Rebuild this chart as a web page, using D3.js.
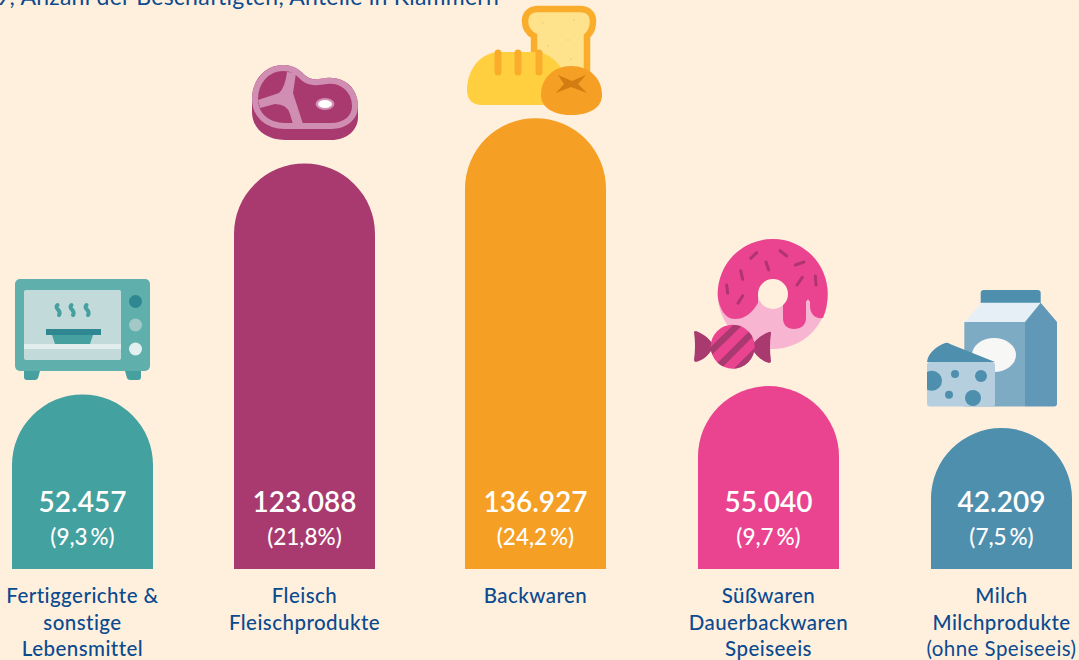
<!DOCTYPE html>
<html lang="de">
<head>
<meta charset="utf-8">
<script src="https://cdn.jsdelivr.net/npm/d3@7"></script>
<style>
html,body{margin:0;padding:0;background:#fff0de;overflow:hidden}
svg{display:block}
text{font-family:Lato,"Open Sans",sans-serif}
</style>
</head>
<body>
<div id="chart"></div>
<script>
// ---- data ----
const categories = ["Fertiggerichte", "Fleisch", "Backwaren", "Süßwaren", "Milch"];
const employees = [52457, 123088, 136927, 55040, 42209];
const shareLabels = ["(9,3\u2009%)", "(21,8%)", "(24,2\u2009%)", "(9,7\u2009%)", "(7,5\u2009%)"];
const labelLines = [
  ["Fertiggerichte &", "sonstige", "Lebensmittel"],
  ["Fleisch", "Fleischprodukte"],
  ["Backwaren"],
  ["Süßwaren", "Dauerbackwaren", "Speiseeis"],
  ["Milch", "Milchprodukte", "(ohne Speiseeis)"]
];
const barColors = ["#43a19f", "#a83a70", "#f59f24", "#ea4490", "#4f8fae"];
const subtitle = "2019, Anzahl der Beschäftigten, Anteile in Klammern";

// ---- layout ----
const W = 1079, H = 660, baseY = 569, barW = 141;
const navy = "#0b4a8f";
const xLeft = d3.scaleOrdinal().domain(categories).range([12, 234, 465, 698, 931]);
const y = d3.scaleLinear().domain([-900, 137000]).range([baseY, 118]);
const color = d3.scaleOrdinal().domain(categories).range(barColors);
const fmt = d3.formatLocale({decimal: ",", thousands: ".", grouping: [3], currency: ["", "€"]}).format(",d");

const svg = d3.select("#chart").append("svg").attr("width", W).attr("height", H).attr("viewBox", `0 0 ${W} ${H}`);
svg.append("rect").attr("width", W).attr("height", H).attr("fill", "#fff0de");

svg.append("text").attr("x", 499).attr("y", 5).attr("text-anchor", "end")
  .attr("font-size", 23).attr("letter-spacing", 0.25).attr("fill", navy).attr("font-weight", 400).text(subtitle);

const rows = categories.map((c, i) => ({c, v: employees[i], s: shareLabels[i], l: labelLines[i]}));

function barPath(d) {
  const x0 = xLeft(d.c), x1 = x0 + barW, r = barW / 2, t = y(d.v);
  const p = d3.path();
  p.moveTo(x0, baseY);
  p.lineTo(x0, t + r);
  p.arc(x0 + r, t + r, r, Math.PI, 2 * Math.PI);
  p.lineTo(x1, baseY);
  p.closePath();
  return p.toString();
}

svg.append("g").selectAll("path").data(rows).join("path")
  .attr("d", barPath).attr("fill", d => color(d.c));

const cx = d => xLeft(d.c) + barW / 2;
svg.append("g").selectAll("text").data(rows).join("text")
  .attr("x", cx).attr("y", 512).attr("text-anchor", "middle")
  .attr("fill", "#fff").attr("font-size", 28).attr("font-weight", 600)
  .text(d => fmt(d.v));
svg.append("g").selectAll("text").data(rows).join("text")
  .attr("x", cx).attr("y", 545).attr("text-anchor", "middle")
  .attr("fill", "#fff").attr("font-size", 22.5).attr("font-weight", 500)
  .text(d => d.s);

const lab = svg.append("g").selectAll("text").data(rows).join("text")
  .attr("text-anchor", "middle").attr("fill", navy).attr("font-size", 20.5).attr("letter-spacing", 0.45);
lab.selectAll("tspan").data(d => d.l.map((t, i) => ({t, i, x: cx(d)}))).join("tspan")
  .attr("x", d => d.x).attr("y", d => 603 + d.i * 27 - (d.i === 2 ? 1 : 0))
  .attr("font-weight", d => d.t.startsWith("(") ? 400 : 500)
  .text(d => d.t);

// ---- icons (drawn in page space, decorative pictograms) ----
const icons = svg.append("g");
const rect = (g, x, y, w, h, fill, rx = 0) => g.append("rect").attr("x", x).attr("y", y).attr("width", w).attr("height", h).attr("fill", fill).attr("rx", rx);
const circ = (g, cx, cy, r, fill) => g.append("circle").attr("cx", cx).attr("cy", cy).attr("r", r).attr("fill", fill);
const path = (g, d, fill, extra = {}) => { const p = g.append("path").attr("d", d).attr("fill", fill); Object.entries(extra).forEach(([k, v]) => p.attr(k, v)); return p; };

// oven
const oven = icons.append("g");
path(oven, "M24,371H40L38,378Q37,380 35,380H27Q24,380 24,377Z", "#45a09f");
path(oven, "M125,371H141V377Q141,380 138,380H130Q128,380 127,378Z", "#45a09f");
rect(oven, 15, 279, 135, 92, "#5fafad", 5);
rect(oven, 24, 290, 97, 70, "#c3dadb", 2);
rect(oven, 24, 344, 97, 5, "#e1eeed");
circ(oven, 135.5, 301.5, 6.5, "#2f8791");
circ(oven, 135.5, 325, 6.5, "#a3c9c6");
circ(oven, 135.5, 349, 6.5, "#e4f0f0");
rect(oven, 46, 329, 55, 6, "#2f8791");
path(oven, "M52,335H93L90,344H55Z", "#45a09f");
[57.5, 71.5, 86.5].forEach(sx => path(oven, `M${sx},305 C${sx - 4},309 ${sx + 5},310 ${sx + 1.5},315`, "none", {stroke: "#45a09f", "stroke-width": 4, "stroke-linecap": "round"}));

// steak
const steakShape = "M252,99 C252,80 265,65 283,65 C296,65 301,72 306,76 C312,81 318,79 326,78 C344,76 358,88 358,106 C358,120 347,129 331,129 H285 C265,129 252,117 252,99 Z";
const steakBase = "M252,99 V112 C252,128 265,140 285,140 H331 C347,140 358,130 358,117 V106 Z";
const steak = icons.append("g");
path(steak, steakBase, "#a83a70");
path(steak, steakShape, "#a83a70");
path(steak, "M255,99 C255,82 267,68 283,68 C295,68 299,74 304,78.5 C311,84 318,82 326,81 C342,79 355,90 355,106 C355,118 345,126 331,126 H285 C267,126 255,115 255,99 Z", "#a83a70", {stroke: "#d08fb2", "stroke-width": 6});
path(steak, "M287,72 Q285,88 279,93 L258,100 L260,108 L275,104 Q287,104 290,114 L293,124 H303 L293,93 L296,73 Z", "#d08fb2");
steak.append("ellipse").attr("cx", 325).attr("cy", 104).attr("rx", 9.5).attr("ry", 6).attr("fill", "#d08fb2");
steak.append("ellipse").attr("cx", 325).attr("cy", 104).attr("rx", 7).attr("ry", 4).attr("fill", "#fff");

// bread
const bread = icons.append("g");
path(bread, "M534,36 V90 H587 V36 Q593,31 593,21 C593,13 587,9 580,9 H538 C531,9 525,13 525,21 Q525,31 534,36 Z", "#ffe38c", {stroke: "#f9ad2b", "stroke-width": 6.5});
[[543,23],[574,20],[548,46],[568,40],[571,59]].forEach(([a, b]) => circ(bread, a, b, 1.2, "#f8d67e"));
path(bread, "M467,90 C467,70 480,52 500,52 H535 C555,52 572,76 572,105 H482 C472,105 467,99 467,90 Z", "#ffcf40");
[498, 518, 539].forEach(sx => path(bread, `M${sx},53 V72`, "none", {stroke: "#f9ad2b", "stroke-width": 7, "stroke-linecap": "round"}));
path(bread, "M541,95 C541,78 554,66 571,66 C589,66 602,78 602,95 C602,108 589,115 571,115 C554,115 541,108 541,95 Z", "#f59f24");
path(bread, "M558,75 L572,81 L586,75 L578,84 L587,93 L571,87 L556,93 L564,84 Z", "#d17d12");

// donut and candy
const sweets = icons.append("g");
circ(sweets, 772.7, 294, 55, "#f7b5d1");
path(sweets, "M717.7,294 A55,55 0 0 1 827.7,294 Q827.7,307 823,318 C815,319 810,314 810,306 V302 Q808,297 806,302 V318 C806,325 801,329 794,329 C787,329 783,325 783,318 V294 H758 V303 C752,313 745,319 735,319 C724,319 718,305 717.7,294 Z", "#ea4490");
circ(sweets, 773, 294, 15, "#fff0de");
[[212,85,230,68],[300,62,320,78],[258,96,266,120],[182,122,188,148],[140,165,143,190],[174,220,188,197],[346,105,372,96],[351,165,367,142],[406,138,408,165]]
  .forEach(([a, b, c, e]) => sweets.append("line")
    .attr("x1", 680 + a / 3).attr("y1", 230 + b / 3).attr("x2", 680 + c / 3).attr("y2", 230 + e / 3)
    .attr("stroke", "#b0356f").attr("stroke-width", 3).attr("stroke-linecap", "round"));
path(sweets, "M694,332 Q694,331 696,331 C704,334 710,339 714,346 C710,354 704,360 696,362 Q694,362 694,360 Q696,346 694,332 Z", "#a83a70");
path(sweets, "M771,333 Q771,331 769,332 C761,335 755,340 751,347 C755,355 761,361 769,363 Q771,363 771,361 Q769,347 771,333 Z", "#a83a70");
svg.append("defs").append("clipPath").attr("id", "candyClip").append("circle").attr("cx", 732.7).attr("cy", 346.7).attr("r", 22);
circ(sweets, 732.7, 346.7, 22, "#ea4490");
const stripes = sweets.append("g").attr("clip-path", "url(#candyClip)");
[[705,357,745,318],[718,367,755,330],[735,372,760,347]].forEach(([a, b, c, e]) => stripes.append("line")
  .attr("x1", a).attr("y1", b).attr("x2", c).attr("y2", e).attr("stroke", "#a83a70").attr("stroke-width", 6.5));

// milk and cheese
const dairy = icons.append("g");
path(dairy, "M980.7,303 V293 Q980.7,290 984,290 H1037.5 Q1040.7,290 1040.7,293 V303 Z", "#4f8fae");
path(dairy, "M964.3,322 L981.7,302.7 H1040.7 L1025,322 Z", "#e6eff5");
path(dairy, "M964.3,322 H1025 V406.5 H964.3 Z", "#7eabc4");
path(dairy, "M1025,322 L1040.7,302.7 L1057,322 V403.5 Q1057,406.5 1054,406.5 H1025 Z", "#6198b8");
dairy.append("ellipse").attr("cx", 994).attr("cy", 355).attr("rx", 22).attr("ry", 17).attr("fill", "#f7f7f5");
path(dairy, "M927,362 C928,352 938,346 944,343.5 Q947,342 950,344 L995,362 Z", "#4f8fae");
rect(dairy, 927, 362, 68, 44.5, "#b6cfdf", 3);
svg.select("defs").append("clipPath").attr("id", "cheeseClip").append("rect").attr("x", 927).attr("y", 362).attr("width", 68).attr("height", 44.5);
const holes = dairy.append("g").attr("clip-path", "url(#cheeseClip)");
[[932,380.7,10],[955,374,4],[981,376,6],[949,394.7,4],[973,398,8]].forEach(([a, b, r]) => circ(holes, a, b, r, "#4f8fae"));
</script>
</body>
</html>
